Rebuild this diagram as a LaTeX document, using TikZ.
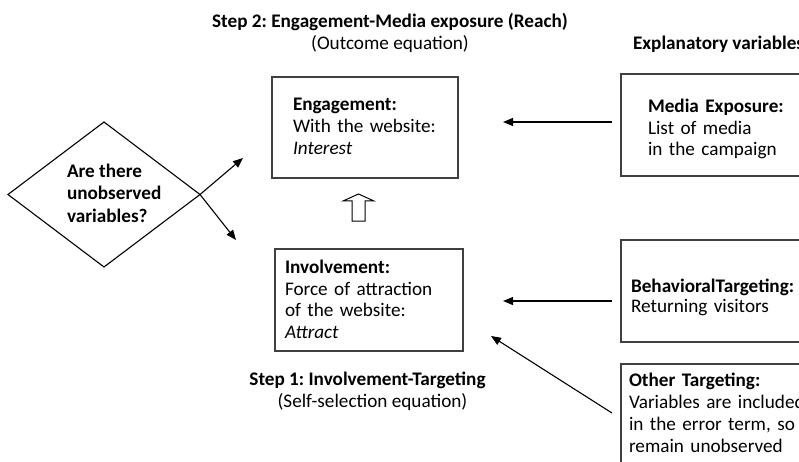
\documentclass[tikz,border=0pt]{standalone}
\usepackage{fontspec}
\setmainfont{Carlito}
\frenchspacing
\usetikzlibrary{shapes.geometric,arrows.meta}
\begin{document}
\begin{tikzpicture}[x=1pt,y=-1pt,
  every node/.style={font=\fontsize{19.2}{21.7}\selectfont, inner sep=0pt, outer sep=0pt},
  bt/.style={font=\fontsize{19.2}{21.7}\selectfont\bfseries},
  box/.style={draw=black!75, line width=1.6pt, rectangle, anchor=north west},
  txt/.style={anchor=base west, align=left, text width=#1},
  arr/.style={line width=1.1pt, -{Triangle[length=10pt,width=8pt]}},
]
\useasboundingbox (0,0) rectangle (799,462);
\clip (0,0) rectangle (799,462);

% boxes
\node[box, minimum width=186pt, minimum height=101pt] (engbox) at (272,77) {};
\node[box, minimum width=188pt, minimum height=102pt] (invbox) at (275,249) {};
\node[box, minimum width=220pt, minimum height=102pt] (medbox) at (621,74) {};
\node[box, minimum width=220pt, minimum height=102pt] (behbox) at (621,240) {};
\node[box, minimum width=220pt, minimum height=120pt] (othbox) at (621,364) {};

% box texts
\node[txt=160pt] (engtxt) at (293,111) {\textbf{Engagement:}\\With the website:\\\textit{Interest}};
\node[txt=175pt] (invtxt) at (285,273.5) {\textbf{Involvement:}\\Force of attraction\\of the website:\\\textit{Attract}};
\node[txt=180pt] (medtxt) at (648,112.5) {\textbf{Media Exposure:}\\List of media\\in the campaign};
\node[txt=200pt, font=\fontsize{19.2}{20}\selectfont] (behtxt) at (631,292) {\textbf{BehavioralTargeting:}\\Returning visitors};
\node[txt=200pt, font=\fontsize{19.2}{22}\selectfont] (othtxt) at (629,386.5) {\textbf{Other Targeting:}\\Variables are included\\in the error term, so\\remain unobserved};

% titles
\node[bt, anchor=base] (t2) at (390,27.4) {Step 2: Engagement-Media exposure (Reach)};
\node[anchor=base] (t2b) at (390,50) {(Outcome equation)};
\node[bt, anchor=base west] (expl) at (633,50) {Explanatory variables};
\node[bt, anchor=base] (t1) at (367.5,385) {Step 1: Involvement-Targeting};
\node[anchor=base] (t1b) at (372.5,407) {(Self-selection equation)};

% diamond
\node[diamond, draw, line width=1.1pt, minimum width=192pt, minimum height=145pt] (dia) at (104,194.5) {};
\node[align=left, anchor=west, font=\fontsize{19.2}{22.5}\selectfont\bfseries] (diatxt) at (67,193) {Are there\\unobserved\\variables?};

% connectors
\draw[arr] (dia.east) -- ([xshift=-29pt,yshift=20pt]engbox.south west);
\draw[arr] (dia.east) -- ([xshift=-39pt,yshift=9pt]invbox.north west);
\draw[arr] ([xshift=-9pt,yshift=3pt]medbox.west) -- ([xshift=45pt,yshift=5.5pt]engbox.east);
\draw[arr] ([xshift=-9pt,yshift=-10pt]behbox.west) -- ([xshift=40pt,yshift=-1pt]invbox.east);
\draw[arr] ([xshift=-9pt,yshift=-49pt]othbox.north west) -- ([xshift=28pt,yshift=15pt]invbox.south east);

% hollow arrow
\draw[line width=1pt] (352,221) -- (352,201) -- (343,201) -- (358.5,194) -- (374,201) -- (365,201) -- (365,221) -- cycle;
\end{tikzpicture}
\end{document}
